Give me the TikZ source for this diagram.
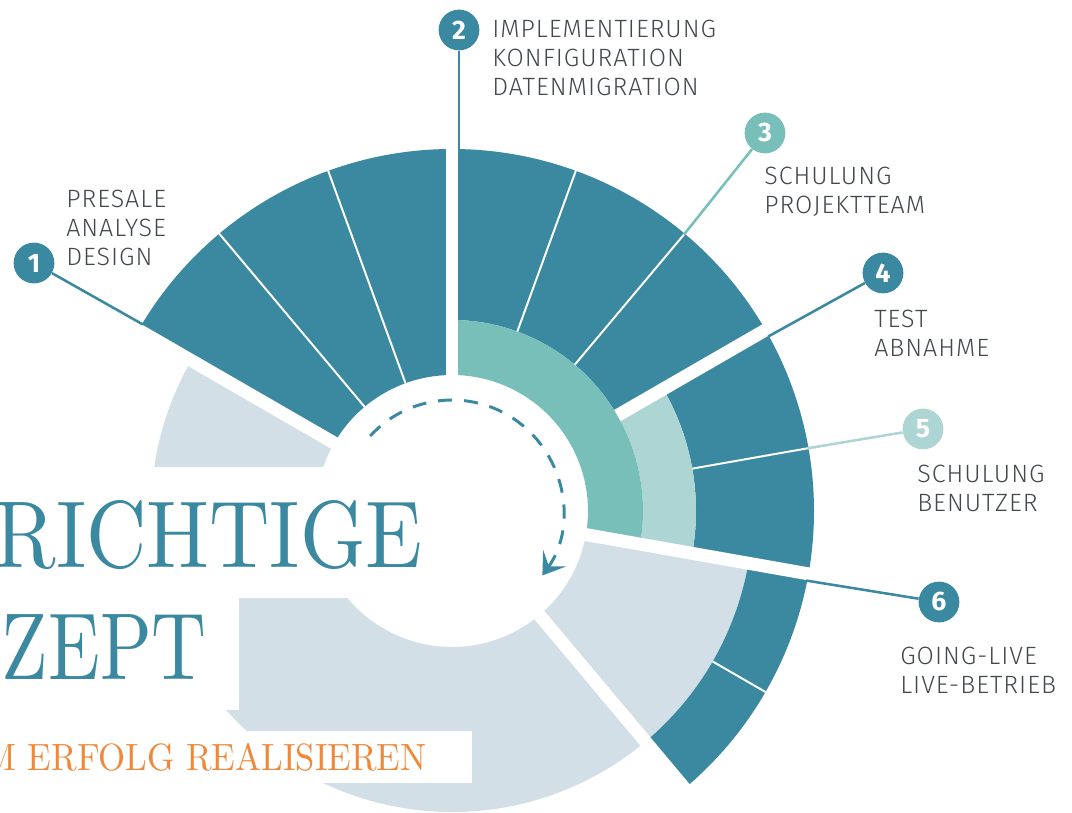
\documentclass[tikz,border=0pt]{standalone}
\usepackage{graphicx}
\usepackage{fontspec}
\setsansfont{Fira Sans}
\newfontfamily\phasefont{Fira Sans Light}[LetterSpace=4]
\newfontfamily\titlefont{lmroman10-regular}[Extension=.otf]
\usetikzlibrary{arrows.meta}

\definecolor{petrol}{HTML}{3B89A0}
\definecolor{mint}{HTML}{78BFB9}
\definecolor{mintpale}{HTML}{ADD5D3}
\definecolor{fog}{HTML}{D3DFE6}
\definecolor{ink}{HTML}{43484D}
\definecolor{tangerine}{HTML}{F0883A}

\newcommand{\ringpart}[5]{%
  \fill[#1] (#2:#4) arc[start angle=#2, end angle=#3, radius=#4]
    -- (#3:#5) arc[start angle=#3, end angle=#2, radius=#5] -- cycle;}

\begin{document}
\begin{tikzpicture}[x=0.025cm,y=0.025cm,
  stepnum/.style={circle,fill=petrol,minimum size=29pt,inner sep=0pt,text=white,
    font=\sffamily\bfseries\fontsize{19}{19}\selectfont},
  phase/.style={anchor=north west,inner sep=0pt,align=left,text=ink,
    font=\phasefont\fontsize{17.8}{20.6}\selectfont},
  feeder/.style={petrol,line width=1.8pt},
  gap/.style={white,line width=9.2pt},
  seam/.style={white,line width=1.4pt},
  headline/.style={inner sep=0pt,anchor=base east,text=petrol,
    font=\titlefont\fontsize{67.6}{70}\selectfont},
  tagline/.style={inner sep=0pt,anchor=base east,text=tangerine,
    font=\titlefont\fontsize{27}{28}\selectfont}]
  \useasboundingbox (-452,-302) rectangle (620,511);
  \clip (-452,-302) rectangle (620,511);

  \ringpart{fog}{150}{350}{136}{301}
  \ringpart{petrol}{310}{350}{301}{362}
  \ringpart{petrol}{-10}{30}{244}{362}
  \ringpart{mintpale}{-10}{30}{191}{244}
  \ringpart{petrol}{30}{90}{191}{362}
  \ringpart{petrol}{90}{150}{136}{362}
  \ringpart{mint}{-10}{90}{136}{191}

  \foreach \a in {110,130} \draw[seam] (\a:136) -- (\a:363);
  \foreach \a in {50,70} \draw[seam] (\a:191) -- (\a:363);
  \draw[seam] (10:244) -- (10:363);
  \draw[seam] (-30:301) -- (-30:363);

  \foreach \a in {150,90,-10,-50} \draw[gap] (\a:130) -- (\a:370);
  \draw[gap] (30:191) -- (30:370);

  \fill[white] (-452,44) rectangle (-102,-87);
  \fill[white] (-452,-87) rectangle (-213,-199);
  \fill[white] (-452,-220) rectangle (20,-272);

  \node[headline] (h1) at (-29,-57) {\scalebox{0.88}[1]{RICHTIGE}};
  \node[headline] (h2) at (-245,-169) {\scalebox{0.80}[1]{ZEPT}};
  \node[tagline] (h3) at (-25,-260) {\scalebox{0.915}[1]{M ERFOLG REALISIEREN}};

  \draw[petrol,line width=2.1pt,dash pattern=on 10pt off 8.5pt,
    -{Stealth[length=15pt,width=20pt,inset=7pt]}]
    (137.5:111) arc[start angle=137.5,end angle=-35.5,radius=111];

  \coordinate (e1) at ([shift={(60:7)}]150:361);
  \coordinate (e2) at ([shift={(0:7)}]90:361);
  \coordinate (e3) at (50:361);
  \coordinate (e4) at ([shift={(-60:7)}]30:361);
  \coordinate (e5) at (10:361);
  \coordinate (e6) at ([shift={(-100:7)}]-10:361);

  \node[stepnum] (n1) at (-418,248) {1};
  \node[stepnum] (n2) at (7,481) {2};
  \node[stepnum,fill=mint] (n3) at (313,378) {3};
  \node[stepnum] (n4) at (431,238) {4};
  \node[stepnum,fill=mintpale] (n5) at (471,82) {5};
  \node[stepnum] (n6) at (487,-91) {6};

  \draw[feeder] (n1) -- (e1);
  \draw[feeder] (n2) -- (e2);
  \draw[feeder,mint] (n3) -- (e3);
  \draw[feeder] (n4) -- (e4);
  \draw[feeder,mintpale] (n5) -- (e5);
  \draw[feeder] (n6) -- (e6);

  \node[phase] (t1) at (-386,321) {PRESALE\\ANALYSE\\DESIGN};
  \node[phase] (t2) at (40,491) {IMPLEMENTIERUNG\\KONFIGURATION\\DATENMIGRATION};
  \node[phase] (t3) at (312,344) {SCHULUNG\\PROJEKTTEAM};
  \node[phase] (t4) at (422,201) {TEST\\ABNAHME};
  \node[phase] (t5) at (465,46) {SCHULUNG\\BENUTZER};
  \node[phase] (t6) at (448,-136) {GOING-LIVE\\LIVE-BETRIEB};
\end{tikzpicture}
\end{document}
